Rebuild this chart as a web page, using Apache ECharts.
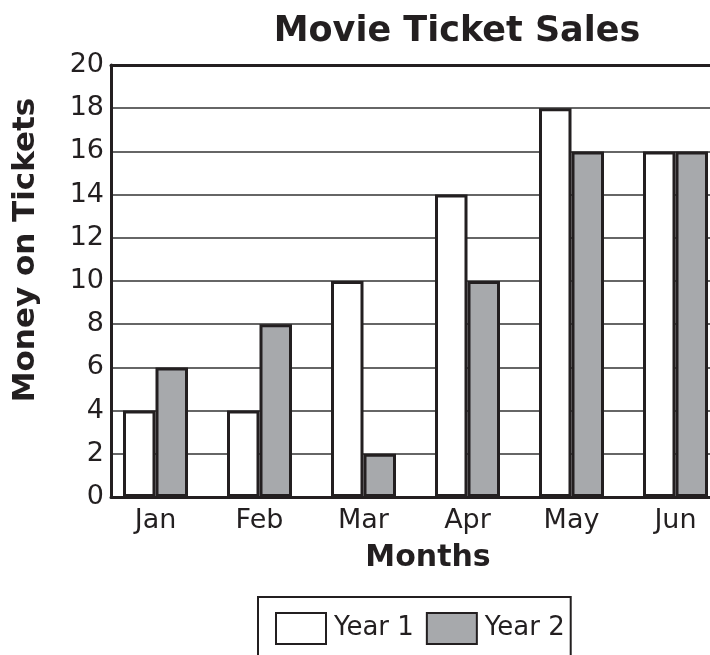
<!DOCTYPE html>
<html>
<head>
<meta charset="utf-8">
<script src="https://cdn.jsdelivr.net/npm/echarts@6/dist/echarts.min.js"></script>
<style>
  html, body { margin: 0; padding: 0; background: #fff; }
  #chart { width: 710px; height: 655px; }
</style>
</head>
<body>
<div id="chart"></div>
<script>
var months = ["Jan", "Feb", "Mar", "Apr", "May", "Jun"];
var year1 = [4, 4, 10, 14, 18, 16];
var year2 = [6, 8, 2, 10, 16, 16];

var ink = "#231f20";
var font = "DejaVu Sans";

var myChart = echarts.init(document.getElementById("chart"));
var option;

option = {
  animation: false,
  textStyle: { fontFamily: font, color: ink },
  title: {
    text: "Movie Ticket Sales",
    left: 452,
    textAlign: "center",
    top: 9,
    textStyle: { fontFamily: font, fontSize: 35, fontWeight: "bold", color: ink }
  },
  legend: {
    data: ["Year 1", "Year 2"],
    left: 258,
    top: 597,
    orient: "horizontal",
    icon: "rect",
    itemWidth: 50,
    itemHeight: 31,
    itemGap: 12,
    borderColor: ink,
    borderWidth: 2,
    padding: [15, 6, 15, 17],
    textStyle: { fontFamily: font, fontSize: 26, color: ink, padding: [0, 0, 0, 3] }
  },
  // grid 0 holds the y axis and grid lines, grid 1 holds the bars
  grid: [
    { left: 111, top: 65, width: 616, height: 432, outerBoundsMode: "none" },
    { left: 103.5, top: 65, width: 624, height: 432, outerBoundsMode: "none" }
  ],
  xAxis: [
    {
      type: "category", gridIndex: 0, data: months,
      axisLine: { lineStyle: { color: ink, width: 3 } },
      axisTick: { show: false }, axisLabel: { show: false }
    },
    {
      type: "category", gridIndex: 0, position: "top", data: months,
      axisLine: { lineStyle: { color: ink, width: 3 } },
      axisTick: { show: false }, axisLabel: { show: false }
    },
    {
      type: "category", gridIndex: 1, data: months,
      axisLine: { show: false }, axisTick: { show: false },
      axisLabel: { fontFamily: font, fontSize: 27, color: ink, margin: 10 }
    }
  ],
  yAxis: [
    {
      type: "value", gridIndex: 0, min: 0, max: 20, interval: 2,
      axisLine: { show: true, lineStyle: { color: ink, width: 3 } },
      axisTick: { show: false },
      axisLabel: { fontFamily: font, fontSize: 27, color: ink, margin: 7 },
      splitLine: { lineStyle: { color: "#333", width: 1.5 } }
    },
    {
      type: "value", gridIndex: 1, min: 0, max: 20, interval: 2, show: false
    }
  ],
  graphic: [
    {
      type: "text",
      x: 26, y: 250,
      rotation: Math.PI / 2,
      style: {
        text: "Money on Tickets",
        font: "bold 31px DejaVu Sans",
        fill: ink,
        align: "center",
        verticalAlign: "middle"
      }
    },
    {
      type: "text",
      x: 428, y: 558,
      style: {
        text: "Months",
        font: "bold 30px DejaVu Sans",
        fill: ink,
        align: "center",
        verticalAlign: "middle"
      }
    }
  ],
  series: [
    {
      name: "Year 1",
      type: "bar",
      xAxisIndex: 2,
      yAxisIndex: 1,
      data: year1,
      barWidth: 32.5,
      barGap: "0%",
      itemStyle: { color: "#ffffff", borderColor: ink, borderWidth: 3 }
    },
    {
      name: "Year 2",
      type: "bar",
      xAxisIndex: 2,
      yAxisIndex: 1,
      data: year2,
      barWidth: 32.5,
      barGap: "0%",
      itemStyle: { color: "#a7a9ac", borderColor: ink, borderWidth: 3 }
    }
  ]
};

option && myChart.setOption(option);
</script>
</body>
</html>
